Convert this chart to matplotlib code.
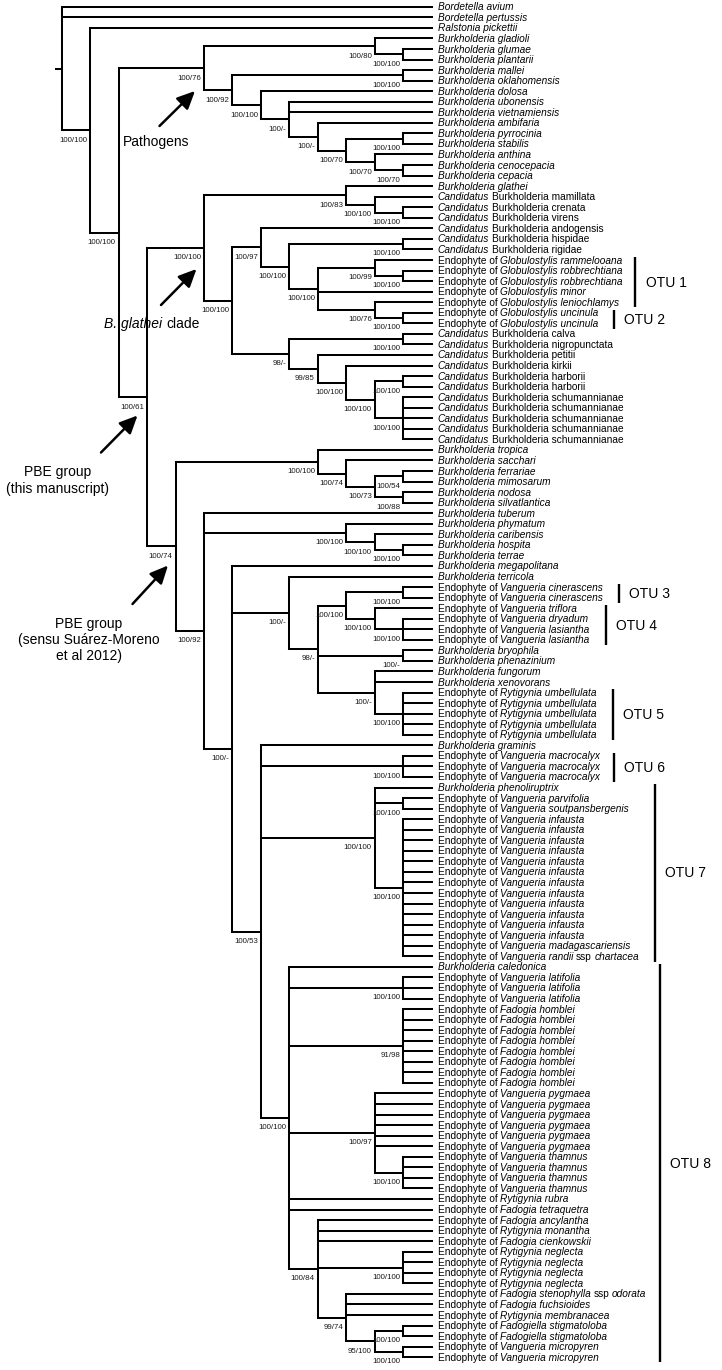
import matplotlib
matplotlib.use("Agg")
import matplotlib.pyplot as plt
from matplotlib import font_manager
from matplotlib.collections import LineCollection

# ---------------- data ----------------
# leaf labels, top to bottom; *...* marks italic parts
taxa = [
    "*Bordetella avium*",
    "*Bordetella pertussis*",
    "*Ralstonia pickettii*",
    "*Burkholderia gladioli*",
    "*Burkholderia glumae*",
    "*Burkholderia plantarii*",
    "*Burkholderia mallei*",
    "*Burkholderia oklahomensis*",
    "*Burkholderia dolosa*",
    "*Burkholderia ubonensis*",
    "*Burkholderia vietnamiensis*",
    "*Burkholderia ambifaria*",
    "*Burkholderia pyrrocinia*",
    "*Burkholderia stabilis*",
    "*Burkholderia anthina*",
    "*Burkholderia cenocepacia*",
    "*Burkholderia cepacia*",
    "*Burkholderia glathei*",
    "*Candidatus* Burkholderia mamillata",
    "*Candidatus* Burkholderia crenata",
    "*Candidatus* Burkholderia virens",
    "*Candidatus* Burkholderia andogensis",
    "*Candidatus* Burkholderia hispidae",
    "*Candidatus* Burkholderia rigidae",
    "Endophyte of *Globulostylis rammelooana*",
    "Endophyte of *Globulostylis robbrechtiana*",
    "Endophyte of *Globulostylis robbrechtiana*",
    "Endophyte of *Globulostylis minor*",
    "Endophyte of *Globulostylis leniochlamys*",
    "Endophyte of *Globulostylis uncinula*",
    "Endophyte of *Globulostylis uncinula*",
    "*Candidatus* Burkholderia calva",
    "*Candidatus* Burkholderia nigropunctata",
    "*Candidatus* Burkholderia petitii",
    "*Candidatus* Burkholderia kirkii",
    "*Candidatus* Burkholderia harborii",
    "*Candidatus* Burkholderia harborii",
    "*Candidatus* Burkholderia schumannianae",
    "*Candidatus* Burkholderia schumannianae",
    "*Candidatus* Burkholderia schumannianae",
    "*Candidatus* Burkholderia schumannianae",
    "*Candidatus* Burkholderia schumannianae",
    "*Burkholderia tropica*",
    "*Burkholderia sacchari*",
    "*Burkholderia ferrariae*",
    "*Burkholderia mimosarum*",
    "*Burkholderia nodosa*",
    "*Burkholderia silvatlantica*",
    "*Burkholderia tuberum*",
    "*Burkholderia phymatum*",
    "*Burkholderia caribensis*",
    "*Burkholderia hospita*",
    "*Burkholderia terrae*",
    "*Burkholderia megapolitana*",
    "*Burkholderia terricola*",
    "Endophyte of *Vangueria cinerascens*",
    "Endophyte of *Vangueria cinerascens*",
    "Endophyte of *Vangueria triflora*",
    "Endophyte of *Vangueria dryadum*",
    "Endophyte of *Vangueria lasiantha*",
    "Endophyte of *Vangueria lasiantha*",
    "*Burkholderia bryophila*",
    "*Burkholderia phenazinium*",
    "*Burkholderia fungorum*",
    "*Burkholderia xenovorans*",
    "Endophyte of *Rytigynia umbellulata*",
    "Endophyte of *Rytigynia umbellulata*",
    "Endophyte of *Rytigynia umbellulata*",
    "Endophyte of *Rytigynia umbellulata*",
    "Endophyte of *Rytigynia umbellulata*",
    "*Burkholderia graminis*",
    "Endophyte of *Vangueria macrocalyx*",
    "Endophyte of *Vangueria macrocalyx*",
    "Endophyte of *Vangueria macrocalyx*",
    "*Burkholderia phenoliruptrix*",
    "Endophyte of *Vangueria parvifolia*",
    "Endophyte of *Vangueria soutpansbergenis*",
] + ["Endophyte of *Vangueria infausta*"] * 12 + [
    "Endophyte of *Vangueria madagascariensis*",
    "Endophyte of *Vangueria randii* ssp *chartacea*",
    "*Burkholderia caledonica*",
] + ["Endophyte of *Vangueria latifolia*"] * 3 \
  + ["Endophyte of *Fadogia homblei*"] * 8 \
  + ["Endophyte of *Vangueria pygmaea*"] * 6 \
  + ["Endophyte of *Vangueria thamnus*"] * 4 + [
    "Endophyte of *Rytigynia rubra*",
    "Endophyte of *Fadogia tetraquetra*",
    "Endophyte of *Fadogia ancylantha*",
    "Endophyte of *Rytigynia monantha*",
    "Endophyte of *Fadogia cienkowskii*",
] + ["Endophyte of *Rytigynia neglecta*"] * 4 + [
    "Endophyte of *Fadogia stenophylla* ssp *odorata*",
    "Endophyte of *Fadogia fuchsioides*",
    "Endophyte of *Rytigynia membranacea*",
    "Endophyte of *Fadogiella stigmatoloba*",
    "Endophyte of *Fadogiella stigmatoloba*",
    "Endophyte of *Vangueria micropyren*",
    "Endophyte of *Vangueria micropyren*",
]

# internal nodes: name, column in the cladogram, support (BI/ML), children
# children: int = leaf index in taxa, str = another node
nodes = [
    ("root", 0, None, [0, 1, "A"]),
    ("A", 1, "100/100", [2, "B"]),
    ("B", 2, "100/100", ["P", "C"]),
    ("P", 5, "100/76", ["G1", "P2"]),
    ("G1", 11, "100/80", [3, "G1b"]),
    ("G1b", 12, "100/100", [4, 5]),
    ("P2", 6, "100/92", ["MO", "P3"]),
    ("MO", 12, "100/100", [6, 7]),
    ("P3", 7, "100/100", [8, "P4"]),
    ("P4", 8, "100/-", [9, 10, "P5"]),
    ("P5", 9, "100/-", [11, "P6"]),
    ("P6", 10, "100/70", ["PS", "P7"]),
    ("PS", 12, "100/100", [12, 13]),
    ("P7", 11, "100/70", [14, "CC"]),
    ("CC", 12, "100/70", [15, 16]),
    ("C", 3, "100/61", ["GL", "D"]),
    ("GL", 5, "100/100", ["GT", "GC"]),
    ("GT", 10, "100/83", [17, "GT2"]),
    ("GT2", 11, "100/100", [18, "CV"]),
    ("CV", 12, "100/100", [19, 20]),
    ("GC", 6, "100/100", ["GA", "GB"]),
    ("GA", 7, "100/97", [21, "GA2"]),
    ("GA2", 8, "100/100", ["HR", "GLOB"]),
    ("HR", 12, "100/100", [22, 23]),
    ("GLOB", 9, "100/100", ["O1a", 27, "O2"]),
    ("O1a", 11, "100/99", [24, "RR"]),
    ("RR", 12, "100/100", [25, 26]),
    ("O2", 11, "100/76", [28, "UN"]),
    ("UN", 12, "100/100", [29, 30]),
    ("GB", 8, "98/-", ["CN", "GB2"]),
    ("CN", 12, "100/100", [31, 32]),
    ("GB2", 9, "99/85", [33, "GB3"]),
    ("GB3", 10, "100/100", [34, "GB4"]),
    ("GB4", 11, "100/100", ["HA", "SC"]),
    ("HA", 12, "100/100", [35, 36]),
    ("SC", 12, "100/100", [37, 38, 39, 40, 41]),
    ("D", 4, "100/74", ["TR", "E"]),
    ("TR", 9, "100/100", [42, "TR2"]),
    ("TR2", 10, "100/74", [43, "TR3"]),
    ("TR3", 11, "100/73", ["FM", "NS"]),
    ("FM", 12, "100/54", [44, 45]),
    ("NS", 12, "100/88", [46, 47]),
    ("E", 5, "100/92", [48, "PH", "F"]),
    ("PH", 10, "100/100", [49, "PH2"]),
    ("PH2", 11, "100/100", [50, "HT"]),
    ("HT", 12, "100/100", [51, 52]),
    ("F", 6, "100/-", [53, "G", "H"]),
    ("G", 8, "100/-", [54, "G2"]),
    ("G2", 9, "98/-", ["O34", "BP", "FX"]),
    ("O34", 10, "100/100", ["O3", "O4"]),
    ("O3", 12, "100/100", [55, 56]),
    ("O4", 11, "100/100", [57, "DL"]),
    ("DL", 12, "100/100", [58, 59, 60]),
    ("BP", 12, "100/-", [61, 62]),
    ("FX", 11, "100/-", [63, 64, "O5"]),
    ("O5", 12, "100/100", [65, 66, 67, 68, 69]),
    ("H", 7, "100/53", [70, "O6", "O7", "O8"]),
    ("O6", 12, "100/100", [71, 72, 73]),
    ("O7", 11, "100/100", [74, "PS2", "INF"]),
    ("PS2", 12, "100/100", [75, 76]),
    ("INF", 12, "100/100", list(range(77, 91))),
    ("O8", 8, "100/100", [91, "LAT", "HOM", "PYG", 113, 114, "N84"]),
    ("LAT", 12, "100/100", [92, 93, 94]),
    ("HOM", 12, "91/98", list(range(95, 103))),
    ("PYG", 11, "100/97", list(range(103, 109)) + ["TH"]),
    ("TH", 12, "100/100", [109, 110, 111, 112]),
    ("N84", 9, "100/84", [115, 116, 117, "NEG", "N74"]),
    ("NEG", 12, "100/100", [118, 119, 120, 121]),
    ("N74", 10, "99/74", [122, 123, 124, "N95"]),
    ("N95", 11, "95/100", ["FS", "MP"]),
    ("FS", 12, "100/100", [125, 126]),
    ("MP", 12, "100/100", [127, 128]),
]

otu_names = ["OTU 1", "OTU 2", "OTU 3", "OTU 4", "OTU 5", "OTU 6", "OTU 7", "OTU 8"]
otu_first = [24, 29, 55, 57, 65, 71, 74, 91]
otu_last = [28, 30, 56, 60, 69, 73, 90, 128]

# ---------------- layout ----------------
W, H = 722, 1370
X0, DX = 61.7, 28.45     # pixel x of column 0, pixels per column
Y0, DY = 6.8, 10.55      # pixel y of first leaf, pixels per leaf
TIP = 13                 # column where all leaves end


def col(px):
    return (px - X0) / DX


def row(py):
    return (py - Y0) / DY


installed = {f.name for f in font_manager.fontManager.ttflist}
if "Liberation Sans Narrow" in installed:
    NARROW, leaf_fs, sup_fs = "Liberation Sans Narrow", 8.8, 6.9
else:
    NARROW, leaf_fs, sup_fs = "Liberation Sans", 7.3, 5.7
REG = "Liberation Sans"

fig = plt.figure(figsize=(W / 100, H / 100), dpi=100)
ax = fig.add_axes([0, 0, 1, 1])
ax.set_xlim(col(0), col(W))
ax.set_ylim(row(H), row(0))
ax.axis("off")

tree = {name: (lvl, sup, ch) for name, lvl, sup, ch in nodes}
ycache = {}


def ypos(c):
    if isinstance(c, int):
        return c
    if c not in ycache:
        ys = [ypos(k) for k in tree[c][2]]
        ycache[c] = (min(ys) + max(ys)) / 2
    return ycache[c]


segs = []
for name, (lvl, sup, ch) in tree.items():
    ys = [ypos(c) for c in ch]
    segs.append([(lvl, min(ys)), (lvl, max(ys))])
    for c, yc in zip(ch, ys):
        end = TIP if isinstance(c, int) else tree[c][0]
        segs.append([(lvl, yc), (end, yc)])
    if sup:
        ax.text(lvl - 0.1, ypos(name) + 0.93, sup, ha="right", va="center",
                fontsize=sup_fs, family=NARROW, color="#1a1a1a")
segs.append([(-0.2, ypos("root")), (0, ypos("root"))])
ax.add_collection(LineCollection(segs, colors="black", linewidths=1.45,
                                 capstyle="projecting", joinstyle="miter"))


def rich_label(x, y, s, fs, family):
    parts = s.split("*")
    prev = None
    for k, p in enumerate(parts):
        p = p.strip()
        if not p:
            continue
        style = "italic" if k % 2 else "normal"
        if prev is None:
            prev = ax.text(x, y, p, ha="left", va="center", fontsize=fs,
                           family=family, style=style)
        else:
            prev = ax.annotate(p, xy=(1, 0.5), xycoords=prev,
                               xytext=(0.25 * fs, 0), textcoords="offset points",
                               ha="left", va="center", fontsize=fs,
                               family=family, style=style)


for i, s in enumerate(taxa):
    rich_label(TIP + 0.22, i + 0.05, s, leaf_fs, NARROW)

# OTU bars
otu_bar_px = [635, 613.5, 618.5, 605.5, 612.5, 614, 654.5, 659.5]
for name, a, b, bx in zip(otu_names, otu_first, otu_last, otu_bar_px):
    ax.plot([col(bx), col(bx)], [a - 0.3, b + 0.5], color="black", lw=1.7,
            solid_capstyle="butt")
    ax.text(col(bx + 10.5), (a + b) / 2 + 0.15, name, ha="left", va="center",
            fontsize=10, family=REG)

# clade annotations with arrows
arrow_kw = dict(arrowstyle="-|>,head_length=0.9,head_width=0.42", color="black",
                lw=1.8, mutation_scale=12, shrinkA=0, shrinkB=0)

ax.text(col(123), row(142), "Pathogens", ha="left", va="center", fontsize=10, family=REG)
ax.annotate("", xy=(col(195), row(91)), xytext=(col(159.5), row(126)), arrowprops=arrow_kw)

t = ax.text(col(104), row(324), "B. glathei", ha="left", va="center", fontsize=10,
            family=REG, style="italic")
ax.annotate("clade", xy=(1, 0.5), xycoords=t, xytext=(2.8, 0), textcoords="offset points",
            ha="left", va="center", fontsize=10, family=REG)
ax.annotate("", xy=(col(196.5), row(269)), xytext=(col(161), row(305)), arrowprops=arrow_kw)

ax.text(col(57.5), row(480.5), "PBE group\n(this manuscript)", ha="center", va="center",
        fontsize=10, family=REG, linespacing=1.2)
ax.annotate("", xy=(col(137.5), row(415.5)), xytext=(col(101), row(452.5)), arrowprops=arrow_kw)

ax.text(col(89), row(640), "PBE group\n(sensu Suárez-Moreno\net al 2012)", ha="center",
        va="center", fontsize=10, family=REG, linespacing=1.15)
ax.annotate("", xy=(col(168), row(565.5)), xytext=(col(132.5), row(604)), arrowprops=arrow_kw)

fig.savefig("out.png", dpi=100, facecolor="white")
